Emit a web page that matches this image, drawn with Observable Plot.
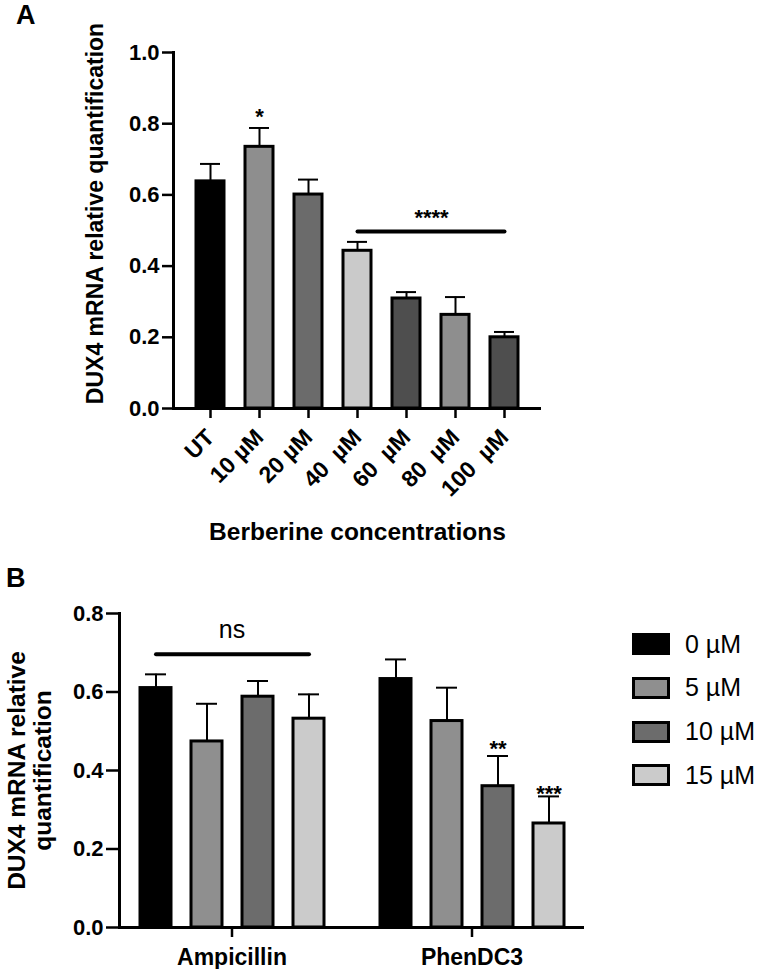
<!DOCTYPE html>
<html><head><meta charset="utf-8">
<script src="https://cdn.jsdelivr.net/npm/d3@7"></script>
<script src="https://cdn.jsdelivr.net/npm/@observablehq/plot@0.6"></script>
<style>
body{margin:0;background:#fff;}
#wrap{position:relative;width:757px;height:969px;font-family:"Liberation Sans",Arial,sans-serif;color:#000;overflow:hidden}
#wrap svg{position:absolute;left:0;overflow:visible}
#wrap svg text{white-space:pre}
.panel{position:absolute;font-weight:bold;font-size:27px;line-height:27px}
.lg-sw{position:absolute;width:38px;height:22px;box-sizing:border-box;border:3px solid #000}
.lg-tx{position:absolute;font-size:25px;line-height:25px;white-space:nowrap}
</style></head><body><div id="wrap"></div>
<script>
// ---------- Panel A data ----------
const catsA = ["UT", "10 µM", "20 µM", "40  µM", "60  µM", "80  µM", "100  µM"];
const meanA = [0.638, 0.735, 0.601, 0.443, 0.309, 0.263, 0.200];
const errA  = [0.049, 0.053, 0.042, 0.025, 0.018, 0.050, 0.015];
const yTicksA = [0, 0.2, 0.4, 0.6, 0.8, 1.0];
const starsA = [{cat: "10 µM", label: "*", y: 0.818}];
const sigLinesA = [{from: "40  µM", to: "100  µM", labelAt: "60  µM", y: 0.497, label: "****", labelY: 0.536}];
const titleA = "DUX4 mRNA relative quantification";
const xTitleA = "Berberine concentrations";

// ---------- Panel B data ----------
const groupsB = ["Ampicillin", "PhenDC3"];
const dosesB = ["0 µM", "5 µM", "10 µM", "15 µM"];
const meanAmp = [0.610, 0.474, 0.588, 0.532];
const errAmp  = [0.035, 0.096, 0.040, 0.062];
const meanPhen = [0.633, 0.526, 0.360, 0.265];
const errPhen  = [0.050, 0.085, 0.077, 0.069];
const yTicksB = [0, 0.2, 0.4, 0.6, 0.8];
const starsB = [{group: "PhenDC3", dose: "10 µM", label: "**", y: 0.455},
                {group: "PhenDC3", dose: "15 µM", label: "***", y: 0.339}];
const sigLinesB = [{group: "Ampicillin", from: "0 µM", to: "15 µM", y: 0.696, label: "ns", labelY: 0.757}];
const titleB = "DUX4 mRNA relative\nquantification";

// ---------- styles ----------
const colorsA = ["#000000", "#8e8e8e", "#6b6b6b", "#cacaca", "#4e4e4e", "#8e8e8e", "#4e4e4e"];
const colorsB = ["#000000", "#8f8f8f", "#6c6c6c", "#cbcbcb"];
const FONT = '"Liberation Sans", Arial, sans-serif';
const fmt = d3.format(".1f");

const wrap = document.getElementById("wrap");

// ---------- Panel A ----------
const dataA = catsA.map((c, i) => ({cat: c, mean: meanA[i], top: meanA[i] + errA[i]}));
const plotA = Plot.plot({
  width: 757, height: 560,
  marginLeft: 173, marginRight: 216, marginTop: 52, marginBottom: 152,
  style: {fontFamily: FONT, fontWeight: "bold", fontSize: "22px", color: "#000", background: "transparent"},
  x: {domain: catsA, padding: 0.42, axis: null, label: null},
  y: {domain: [0, 1], axis: null, label: null},
  color: {domain: catsA, range: colorsA},
  marks: [
    Plot.ruleX(dataA, {x: "cat", y1: "mean", y2: "top", strokeWidth: 2}),
    Plot.tickY(dataA, {x: "cat", y: "top", strokeWidth: 2, insetLeft: 4, insetRight: 4}),
    Plot.barY(dataA, {x: "cat", y: "mean", fill: "cat", stroke: "#000", strokeWidth: 3}),
    Plot.ruleY([0], {strokeWidth: 3}),
    Plot.frame({anchor: "left", strokeWidth: 3}),
    Plot.axisY({ticks: yTicksA, tickFormat: fmt, tickSize: 11, tickPadding: 3, strokeWidth: 2.5, label: null, fontSize: 22}),
    Plot.axisX({tickSize: 10, tickPadding: 15, tickRotate: -45, strokeWidth: 2.5, label: null, fontSize: 23}),
    Plot.text(starsA, {x: "cat", y: "y", text: "label", fontSize: 22}),
    Plot.link(sigLinesA, {x1: "from", x2: "to", y1: "y", y2: "y", strokeWidth: 4, strokeLinecap: "round"}),
    Plot.text(sigLinesA, {x: "labelAt", dx: 25, y: "labelY", text: "label", fontSize: 22}),
    Plot.text([titleA], {text: d => d, frameAnchor: "left", textAnchor: "middle", lineAnchor: "middle", rotate: -90, dx: -78, dy: -17, fontSize: 23}),
    Plot.text([xTitleA], {text: d => d, frameAnchor: "bottom", textAnchor: "middle", lineAnchor: "middle", dy: 124, fontSize: 24.5})
  ]
});
plotA.style.top = "0px";
wrap.appendChild(plotA);

// ---------- Panel B ----------
const dataB = [];
groupsB.forEach((g, gi) => {
  const means = gi === 0 ? meanAmp : meanPhen;
  const errs = gi === 0 ? errAmp : errPhen;
  dosesB.forEach((d, i) => dataB.push({group: g, dose: d, mean: means[i], top: means[i] + errs[i]}));
});
const plotB = Plot.plot({
  width: 757, height: 409,
  marginLeft: 118, marginRight: 173, marginTop: 53, marginBottom: 42,
  style: {fontFamily: FONT, fontWeight: "bold", fontSize: "22px", color: "#000", background: "transparent"},
  fx: {domain: groupsB, paddingInner: 0.063, paddingOuter: 0, axis: null, label: null},
  x: {domain: dosesB, padding: 0.4, axis: null, label: null},
  y: {domain: [0, 0.8], axis: null, label: null},
  color: {domain: dosesB, range: colorsB},
  marks: [
    Plot.ruleX(dataB, {fx: "group", x: "dose", y1: "mean", y2: "top", strokeWidth: 2}),
    Plot.tickY(dataB, {fx: "group", x: "dose", y: "top", strokeWidth: 2, insetLeft: 5, insetRight: 5}),
    Plot.barY(dataB, {fx: "group", x: "dose", y: "mean", fill: "dose", stroke: "#000", strokeWidth: 3}),
    Plot.ruleY([{g: groupsB[0]}], {fx: "g", y: 0, strokeWidth: 3, insetRight: -16}),
    Plot.ruleY([{g: groupsB[1]}], {fx: "g", y: 0, strokeWidth: 3}),
    Plot.frame({anchor: "left", strokeWidth: 3, facetAnchor: "left"}),
    Plot.axisY({ticks: yTicksB, tickFormat: fmt, tickSize: 13, tickPadding: 3, strokeWidth: 2.5, label: null, fontSize: 22}),
    Plot.axisFx({anchor: "bottom", tickSize: 10, tickPadding: 11, strokeWidth: 2.5, label: null, fontSize: 23}),
    Plot.text(starsB, {fx: "group", x: "dose", y: "y", text: "label", fontSize: 22}),
    Plot.link(sigLinesB, {fx: "group", x1: "from", x2: "to", y1: "y", y2: "y", strokeWidth: 4, strokeLinecap: "round"}),
    Plot.text(sigLinesB, {fx: "group", y: "labelY", text: "label", fontSize: 25, fontWeight: "normal"}),
    Plot.text([titleB], {text: d => d, frameAnchor: "left", textAnchor: "middle", lineAnchor: "middle", rotate: -90, dx: -90, dy: 0, fontSize: 24.5, lineHeight: 1.06, facetAnchor: "left"})
  ]
});
plotB.style.top = "560px";
wrap.appendChild(plotB);

// ---------- Panel letters ----------
const la = document.createElement("div"); la.className = "panel"; la.textContent = "A";
la.style.left = "16px"; la.style.top = "2px"; wrap.appendChild(la);
const lb = document.createElement("div"); lb.className = "panel"; lb.textContent = "B";
lb.style.left = "6px"; lb.style.top = "565px"; wrap.appendChild(lb);

// ---------- Legend (panel B) ----------
dosesB.forEach((d, i) => {
  const top = 633 + i * 43.8;
  const sw = document.createElement("div"); sw.className = "lg-sw";
  sw.style.left = "632px"; sw.style.top = top + "px"; sw.style.background = colorsB[i];
  wrap.appendChild(sw);
  const tx = document.createElement("div"); tx.className = "lg-tx"; tx.textContent = d;
  tx.style.left = "685px"; tx.style.top = (top - 1.5) + "px";
  wrap.appendChild(tx);
});
</script></body></html>
